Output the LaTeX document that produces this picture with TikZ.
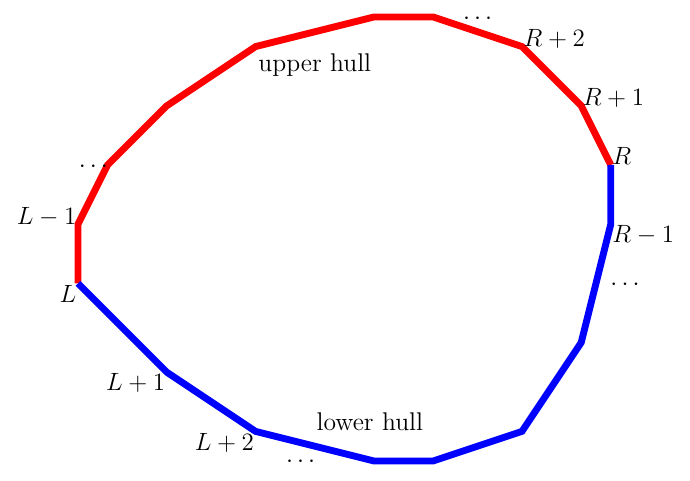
\documentclass[tikz,border=0pt]{standalone}
\usepackage{tikz}

\tikzset{
    hull/.style={line width=3.3pt},
    vlabel/.style={inner sep=0.6pt}
}

\begin{document}
\begin{tikzpicture}[x=0.5cm,y=0.5cm,every node/.style={font=\fontsize{12.3}{15}\selectfont}]
    % Fix the margins
    \useasboundingbox (-2.635,-0.676) rectangle (20.676,15.574);

    % Vertices of the polygon
    \coordinate (L) at (0,6);
    \coordinate (Lm1) at (0,8);
    \coordinate (u1) at (1,10);
    \coordinate (u2) at (3,12);
    \coordinate (u3) at (6,14);
    \coordinate (u4) at (10,15);
    \coordinate (u5) at (12,15);
    \coordinate (Rp2) at (15,14);
    \coordinate (Rp1) at (17,12);
    \coordinate (R) at (18,10);
    \coordinate (Rm1) at (18,8);
    \coordinate (l1) at (17,4);
    \coordinate (l2) at (15,1);
    \coordinate (l3) at (12,0);
    \coordinate (l4) at (10,0);
    \coordinate (Lp2) at (6,1);
    \coordinate (Lp1) at (3,3);

    % Draw the two hulls
    \draw[hull,red] (L) -- (Lm1) -- (u1) -- (u2) -- (u3) -- (u4) -- (u5) -- (Rp2) -- (Rp1) -- (R);
    \draw[hull,blue] (L) -- (Lp1) -- (Lp2) -- (l4) -- (l3) -- (l2) -- (l1) -- (Rm1) -- (R);

    % Vertex labels
    \node[vlabel,anchor=base west] (nR) at (R) {$R$};
    \node[vlabel,anchor=base west] (nRp1) at (Rp1) {$R+1$};
    \node[vlabel,anchor=base west] (nRp2) at (Rp2) {$R+2$};
    \node[vlabel,anchor=north west] (nRm1) at (Rm1) {$R-1$};
    \node[vlabel,anchor=base east] (nLm1) at (Lm1) {$L-1$};
    \node[vlabel,anchor=north east] (nL) at (L) {$L$};
    \node[vlabel,anchor=north east] (nLp1) at (Lp1) {$L+1$};
    \node[vlabel,anchor=north east] (nLp2) at (Lp2) {$L+2$};

    % Dots and names
    \node (dtop) at (13.50,14.93) {$\cdots$};
    \node (dleft) at (0.52,9.93) {$\cdots$};
    \node (dright) at (18.48,5.95) {$\cdots$};
    \node (dbottom) at (7.52,-0.03) {$\cdots$};
    \node (upper) at (8.0,13.38) {upper hull};
    \node (lower) at (9.86,1.32) {lower hull};
\end{tikzpicture}
\end{document}
